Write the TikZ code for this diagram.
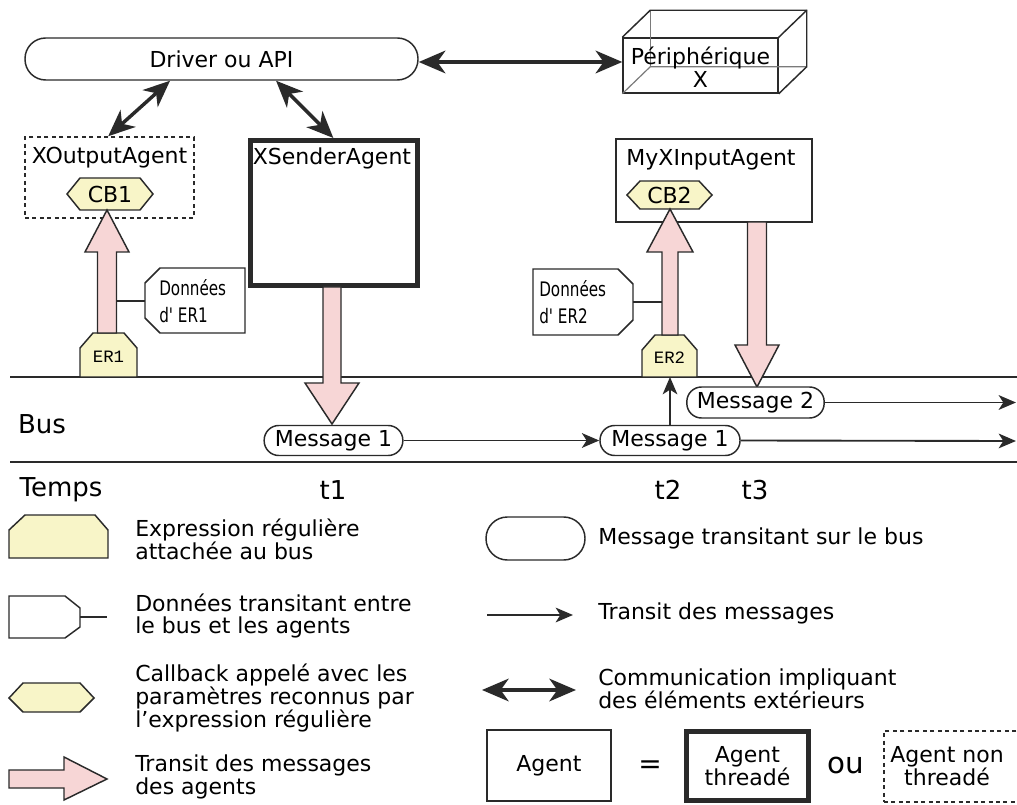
\documentclass[tikz,border=0pt]{standalone}
\usepackage{fontspec}
\setmainfont{DejaVu Sans}
\newfontfamily\ermono{Liberation Mono}
\newfontfamily\condfont[FakeStretch=0.76]{DejaVu Sans}
\usetikzlibrary{arrows.meta}
\definecolor{pinkf}{HTML}{F7D6D6}
\definecolor{yelf}{HTML}{F8F5C8}
\definecolor{edge}{HTML}{2A2A2A}
\definecolor{hidden}{HTML}{7A7A7A}
\newcommand\fmain{\fontsize{16.5}{17.2}\selectfont}
\newcommand\fbig{\fontsize{19.5}{21}\selectfont}
\newcommand\fsmall{\condfont\fontsize{15}{20}\selectfont}
\newcommand\apos{\char"0027\relax}
\newcommand\fatarrowv[6]{\filldraw[pinkarr] ({#1-#5},#2) -- ({#1-#5},#3) -- ({#1-#6},#3) -- (#1,#4) -- ({#1+#6},#3) -- ({#1+#5},#3) -- ({#1+#5},#2) -- cycle;}
\tikzset{
  shp/.style={draw=edge, line width=1.1pt},
  yelshape/.style={shp, fill=yelf},
  pinkarr/.style={draw=edge, line width=1.1pt, fill=pinkf, line join=miter},
  msg/.style={draw=edge, line width=1.1pt, fill=white, rounded corners=11pt, minimum width=104pt, minimum height=22.5pt, inner sep=0pt, font=\fmain},
  txt/.style={inner sep=0pt, font=\fmain},
  bigtxt/.style={inner sep=0pt, font=\fbig},
  legtxt/.style={inner sep=0pt, font=\fmain, anchor=west, align=left},
  smalltxt/.style={inner sep=0pt, font=\fsmall, anchor=west, align=left},
  ertxt/.style={inner sep=0pt, font=\ermono\fontsize{13}{14}\selectfont},
  agentbox/.style={draw=edge, line width=1.1pt, inner sep=0pt},
  thickbox/.style={draw=edge, line width=3.75pt, inner sep=0pt},
  dashbox/.style={draw=edge, line width=1.1pt, dash pattern=on 3pt off 2.6pt, inner sep=0pt},
  flow/.style={draw=edge, line width=1.4pt, -{Stealth[length=13pt,width=11pt,inset=3.5pt]}},
  ext/.style={draw=edge, line width=2.6pt, {Stealth[length=20pt,width=17pt,inset=6pt]}-{Stealth[length=20pt,width=17pt,inset=6pt]}},
  busline/.style={draw=edge, line width=1.6pt},
}
\begin{document}
\begin{tikzpicture}[x=0.75pt,y=-0.75pt]
\clip (0,0) rectangle (1017,805);
\fill[white] (0,0) rectangle (1017,805);

% ---------- bus lines
\coordinate (bt0) at (10,377); \coordinate (bt1) at (1017,377);
\coordinate (bb0) at (10,462); \coordinate (bb1) at (1017,462);
\draw[busline] (bt0) -- (bt1);
\draw[busline] (bb0) -- (bb1);

% ---------- Driver and peripheral
\node[draw=edge, line width=1.1pt, rounded corners=15.5pt, minimum width=294.75pt, minimum height=31.5pt, inner sep=0pt, font=\fmain] (drv) at (221.5,59) {Driver ou API};

\node[draw=edge, line width=1.1pt, minimum width=116.25pt, minimum height=41.25pt, inner sep=0pt] (peri) at (700.5,65.5) {};
\draw[hidden, line width=0.9pt] (peri.south west) -- ([shift={(28,-27)}]peri.south west) -- ([shift={(28,-27)}]peri.south east);
\draw[hidden, line width=0.9pt] ([shift={(28,-27)}]peri.south west) -- ([shift={(28,-27)}]peri.north west);
\draw[edge, line width=1.1pt] (peri.north west) -- ([shift={(28,-27)}]peri.north west) -- ([shift={(28,-27)}]peri.north east) -- ([shift={(28,-27)}]peri.south east) -- (peri.south east);
\draw[edge, line width=1.1pt] (peri.north east) -- ([shift={(28,-27)}]peri.north east);
\node[txt, align=center] (peril) at (700.5,67.5) {Périphérique\\X};

\draw[ext] ([yshift=-2.25pt]drv.east) -- ([yshift=-2.25pt]drv.east -| peri.west);

% ---------- agents
\node[dashbox, minimum width=126.75pt, minimum height=60.75pt] (xout) at (109.5,177.5) {};
\node[txt] (xoutl) at (109.5,158) {XOutputAgent};

\node[thickbox, minimum width=125.25pt, minimum height=108.75pt] (xsend) at (334,213) {};
\node[txt] (xsendl) at (332,158) {XSenderAgent};

\node[agentbox, minimum width=147pt, minimum height=62.25pt] (myx) at (714,180.5) {};
\node[txt] (myxl) at (711,160) {MyXInputAgent};

\draw[ext] ([xshift=-38.6pt]drv.south) -- ([xshift=-1pt]xout.north);
\draw[ext] ([xshift=40.9pt]drv.south) -- ([xshift=-0.5pt]xsend.north);

% ---------- callbacks
\filldraw[yelshape] (67,194) -- (80,178) -- (140,178) -- (153,194) -- (140,210) -- (80,210) -- cycle;
\node[txt] (cb1) at (110,194) {CB1};
\filldraw[yelshape] (627,195) -- (640,181) -- (699,181) -- (712,195) -- (699,209) -- (640,209) -- cycle;
\node[txt] (cb2) at (669.5,195) {CB2};

% ---------- regular expressions
\filldraw[yelshape] (80,377) -- (80,348) -- (93,333) -- (124,333) -- (137,348) -- (137,377) -- cycle;
\node[ertxt] (er1) at (108.5,357) {ER1};
\filldraw[yelshape] (642,377) -- (642,350) -- (655,335) -- (684,335) -- (697,350) -- (697,377) -- cycle;
\node[ertxt] (er2) at (669.5,358) {ER2};

% ---------- pink arrows
\fatarrowv{107}{333}{252}{210}{9.5}{22}
\fatarrowv{670}{335}{252}{209}{8}{23}
\fatarrowv{332}{287}{383}{424}{9}{27}
\fatarrowv{757}{222}{345}{387}{9.5}{22}

% ---------- data
\filldraw[shp, fill=white] (160,268) -- (245,268) -- (245,333) -- (160,333) -- (145,318) -- (145,283) -- cycle;
\node[smalltxt] (d1) at (159,301) {Données\\d\apos\ ER1};
\coordinate (d1w) at (145,301); \coordinate (a2r) at (116.5,301);
\draw[shp] (a2r) -- (d1w);
\filldraw[shp, fill=white] (533,269) -- (618,269) -- (633,284) -- (633,320) -- (618,335) -- (533,335) -- cycle;
\node[smalltxt] (d2) at (539,302) {Données\\d\apos\ ER2};
\coordinate (d2e) at (633,302); \coordinate (a3l) at (662,302);
\draw[shp] (d2e) -- (a3l);

% ---------- messages
\node[msg] (m1a) at (333.5,440.5) {Message 1};
\node[msg, minimum width=105pt] (m1b) at (670,440.5) {Message 1};
\node[msg, minimum width=103pt, minimum height=23.25pt] (m2) at (755.5,402.5) {Message 2};
\coordinate (end1) at (1016,441);
\coordinate (end2) at (1016,402.5);
\coordinate (er2b) at (670,377);
\draw[flow] (m1a.east) -- (m1b.west);
\draw[flow] (m1b.east) -- (end1);
\draw[flow] (m2.east) -- (end2);
\draw[flow] (m1b.north) -- (er2b);

% ---------- bus / time labels
\node[bigtxt] (bus) at (42,424) {Bus};
\node[bigtxt] (temps) at (61,490) {Temps};
\node[bigtxt] (t1) at (333,490) {t1};
\node[bigtxt] (t2) at (668,490) {t2};
\node[bigtxt] (t3) at (755,490) {t3};

% ---------- legend, left column
\filldraw[yelshape] (9,558) -- (9,530) -- (25,515) -- (95,515) -- (108,530) -- (108,558) -- cycle;
\node[legtxt] (l1) at (135,539) {Expression régulière\\attachée au bus};

\filldraw[shp, fill=white] (9,596) -- (65,596) -- (80,608) -- (80,627) -- (65,638) -- (9,638) -- cycle;
\coordinate (ld0) at (80,617); \coordinate (ld1) at (107,617);
\draw[shp] (ld0) -- (ld1);
\node[legtxt] (l2) at (135,616) {Données transitant entre\\le bus et les agents};

\filldraw[yelshape] (9,698) -- (23,683) -- (80,683) -- (94,698) -- (80,712) -- (23,712) -- cycle;
\node[legtxt] (l3) at (135,698) {Callback appelé avec les\\paramètres reconnus par\\l\apos expression régulière};

\filldraw[pinkarr] (9,770) -- (64,770) -- (64,757) -- (107,779) -- (64,800) -- (64,788) -- (9,788) -- cycle;
\node[legtxt] (l4) at (135,777) {Transit des messages\\des agents};

% ---------- legend, right column
\node[draw=edge, line width=1.1pt, rounded corners=16pt, minimum width=74.25pt, minimum height=32.25pt, inner sep=0pt] (lm) at (535.5,538.5) {};
\node[legtxt] (l5) at (598,538) {Message transitant sur le bus};

\coordinate (lf0) at (487,615); \coordinate (lf1) at (573,615);
\draw[flow] (lf0) -- (lf1);
\node[legtxt] (l6) at (598,613) {Transit des messages};

\coordinate (le0) at (482,690); \coordinate (le1) at (576,690);
\draw[ext] (le0) -- (le1);
\node[legtxt] (l7) at (598,689) {Communication impliquant\\des éléments extérieurs};

\node[agentbox, minimum width=93pt, minimum height=53.25pt, font=\fmain] (la) at (549,765.5) {Agent};
\node[inner sep=0pt, font=\fontsize{21}{22}\selectfont] (eq) at (650,767) {=};
\node[thickbox, minimum width=91.5pt, minimum height=51.75pt, font=\fmain, align=center] (lt) at (747.5,766) {Agent\\threadé};
\node[inner sep=0pt, font=\fontsize{22}{24}\selectfont] (ou) at (846,765) {ou};
\node[dashbox, minimum width=135pt, minimum height=53.25pt] (ln) at (974,766.5) {};
\node[txt, align=center] (lnl) at (947,766) {Agent non\\threadé};
\end{tikzpicture}
\end{document}
